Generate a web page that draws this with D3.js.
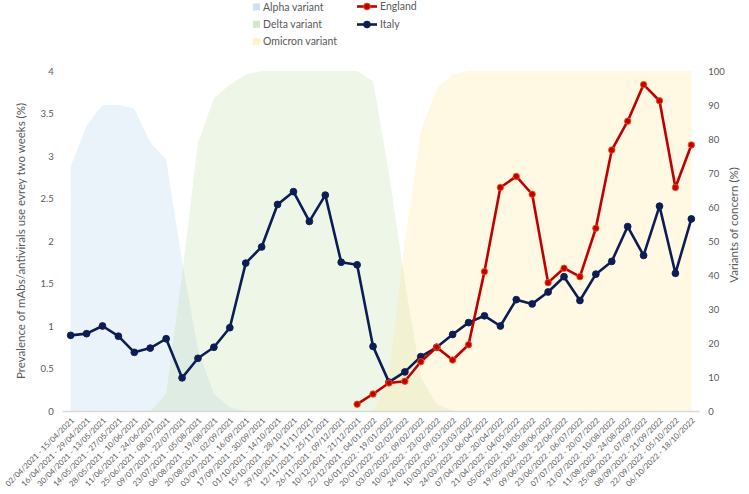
<!DOCTYPE html>
<html><head><meta charset="utf-8">
<script src="https://cdn.jsdelivr.net/npm/d3@7"></script>
<style>
body{margin:0;background:#fff;}
svg{display:block;font-family:Lato,"Liberation Sans",sans-serif;}
</style></head>
<body><svg id="c" width="749" height="494"></svg>
<script>
const categories = [
"02/04/2021 - 15/04/2021","16/04/2021 - 29/04/2021","30/04/2021 - 13/05/2021","14/05/2021 - 27/05/2021",
"28/05/2021 - 10/06/2021","11/06/2021 - 24/06/2021","25/06/2021 - 08/07/2021","09/07/2021 - 22/07/2021",
"23/07/2021 - 05/08/2021","06/08/2021 - 19/08/2021","20/08/2021 - 02/09/2021","03/09/2021 - 16/09/2021",
"17/09/2021 - 30/09/2021","01/10/2021 - 14/10/2021","15/10/2021 - 28/10/2021","29/10/2021 - 11/11/2021",
"12/11/2021 - 25/11/2021","26/11/2021 - 09/12/2021","10/12/2021 - 21/12/2021","22/12/2021 - 04/01/2022",
"06/01/2022 - 19/01/2022","20/01/2022 - 02/02/2022","03/02/2022 - 09/02/2022","10/02/2022 - 23/02/2022",
"24/02/2022 - 09/03/2022","10/03/2022 - 23/03/2022","24/03/2022 - 06/04/2022","07/04/2022 - 20/04/2022",
"21/04/2022 - 04/05/2022","05/05/2022 - 18/05/2022","19/05/2022 - 08/06/2022","09/06/2022 - 22/06/2022",
"23/06/2022 - 06/07/2022","07/07/2022 - 20/07/2022","21/07/2022 - 10/08/2022","11/08/2022 - 24/08/2022",
"25/08/2022 - 07/09/2022","08/09/2022 - 21/09/2022","22/09/2022 - 05/10/2022","06/10/2022 - 18/10/2022"];

const italy = [0.89,0.91,1.00,0.88,0.69,0.74,0.85,0.39,0.62,0.75,0.98,1.74,1.93,2.43,2.58,2.23,2.54,1.75,1.72,0.76,
0.34,0.46,0.64,0.75,0.90,1.04,1.12,1.00,1.31,1.26,1.40,1.58,1.30,1.61,1.76,2.17,1.83,2.41,1.62,2.26];
const england = [null,null,null,null,null,null,null,null,null,null,null,null,null,null,null,null,null,null,0.08,0.20,
0.33,0.35,0.58,0.75,0.60,0.78,1.64,2.63,2.76,2.55,1.51,1.68,1.58,2.15,3.07,3.41,3.84,3.65,2.63,3.13];

const alpha = [72,84,90,90,89,79,74,44,18,5,1,0,0,0,0,0,0,0,0,0,0,0,0,0,0,0,0,0,0,0,0,0,0,0,0,0,0,0,0,0];
const delta = [0,0,0,0,0,0,5,40,79,92,96,99,100,100,100,100,100,100,100,97,70,38,10,2,0,0,0,0,0,0,0,0,0,0,0,0,0,0,0,0];
const omicron = [0,0,0,0,0,0,0,0,0,0,0,0,0,0,0,0,0,0,0,0,10,50,82,95,99,100,100,100,100,100,100,100,100,100,100,100,100,100,100,100];

const leftTicks = [0,0.5,1,1.5,2,2.5,3,3.5,4];
const rightTicks = [0,10,20,30,40,50,60,70,80,90,100];

const svg = d3.select("#c");
const textCol = "#595959";
const x = d3.scaleBand().domain(categories).range([62.7, 699.3]);
const cx = c => x(c) + x.bandwidth()/2;
const yL = d3.scaleLinear().domain([0,4]).range([411,71]);
const yR = d3.scaleLinear().domain([0,100]).range([411,71]);

const variants = [
  {name:"Alpha variant", vals:alpha, col:"#9dc3e6", op:0.2},
  {name:"Delta variant", vals:delta, col:"#a9d18e", op:0.2},
  {name:"Omicron variant", vals:omicron, col:"#ffe699", op:0.28}
];
const area = d3.area().x((d,i)=>cx(categories[i])).y0(yR(0)).y1(d=>yR(d));
variants.forEach(v=>{
  svg.append("path").datum(v.vals).attr("d",area).attr("fill",v.col).attr("fill-opacity",v.op);
});

// bottom axis line
svg.append("line").attr("x1",62.7).attr("x2",699.3).attr("y1",411.5).attr("y2",411.5)
  .attr("stroke","#d9d9d9").attr("stroke-width",1.3);

// left axis
const gl = svg.append("g").attr("transform","translate(62.7,0)")
  .call(d3.axisLeft(yL).tickValues(leftTicks).tickSize(0).tickPadding(9).tickFormat(d=>String(d)));
gl.select(".domain").remove();
gl.selectAll("text").attr("fill",textCol).style("font-size","9.5px").style("font-family","Lato");

// right axis
const gr = svg.append("g").attr("transform","translate(699.3,0)")
  .call(d3.axisRight(yR).tickValues(rightTicks).tickSize(0).tickPadding(9).tickFormat(d=>String(d)));
gr.select(".domain").remove();
gr.selectAll("text").attr("fill",textCol).style("font-size","9.5px").style("font-family","Lato");

// x labels
const gx = svg.append("g").attr("transform","translate(0,411)")
  .call(d3.axisBottom(x).tickSize(0).tickFormat(d=>d));
gx.select(".domain").remove();
gx.selectAll("text").attr("fill",textCol).style("font-size","7.8px").style("font-family","Lato")
  .attr("text-anchor","end").attr("dy",null).attr("y",0)
  .attr("transform","translate(4,10) rotate(-45)");

// axis titles
svg.append("text").attr("transform","translate(25,241) rotate(-90)").attr("text-anchor","middle")
  .attr("fill",textCol).style("font-size","11.5px").text("Prevalence of mAbs/antivirals use evrey two weeks (%)");
svg.append("text").attr("transform","translate(738,225) rotate(-90)").attr("text-anchor","middle")
  .attr("fill",textCol).style("font-size","11.5px").text("Variants of concern (%)");

// lines
const line = d3.line().defined(d=>d!==null).x((d,i)=>cx(categories[i])).y(d=>yL(d));
const series = [
  {name:"England", vals:england, col:"#c00000", mk:"#c00000", mkStroke:"#f0541e", r:3.2},
  {name:"Italy", vals:italy, col:"#0c1d54", mk:"#0c1d54", mkStroke:"#0c1d54", r:3.4}
];
series.slice().reverse().forEach(s=>{
  svg.append("path").datum(s.vals).attr("d",line).attr("fill","none").attr("stroke",s.col)
    .attr("stroke-width",2.6).attr("stroke-linejoin","round");
  svg.append("g").selectAll("circle").data(s.vals.map((v,i)=>({v,i})).filter(d=>d.v!==null))
    .join("circle").attr("cx",d=>cx(categories[d.i])).attr("cy",d=>yL(d.v)).attr("r",s.r)
    .attr("fill",s.mk).attr("stroke",s.mkStroke).attr("stroke-width",0.9);
});

// legend
const legV = svg.append("g");
variants.forEach((v,i)=>{
  const yy = 7 + i*17.3;
  legV.append("rect").attr("x",253).attr("y",yy-3.5).attr("width",7).attr("height",7)
    .attr("fill",v.col).attr("fill-opacity",0.5);
  legV.append("text").attr("x",263).attr("y",yy).attr("dy","0.35em").attr("fill",textCol)
    .style("font-size","10.5px").text(v.name);
});
series.forEach((s,i)=>{
  const yy = 6.5 + i*18;
  legV.append("line").attr("x1",357).attr("x2",377).attr("y1",yy).attr("y2",yy)
    .attr("stroke",s.col).attr("stroke-width",2.6);
  legV.append("circle").attr("cx",367).attr("cy",yy).attr("r",3.4).attr("fill",s.mk)
    .attr("stroke",s.mkStroke).attr("stroke-width",0.9);
  legV.append("text").attr("x",380).attr("y",yy).attr("dy","0.35em").attr("fill",textCol)
    .style("font-size","10.5px").text(s.name);
});
</script></body></html>
